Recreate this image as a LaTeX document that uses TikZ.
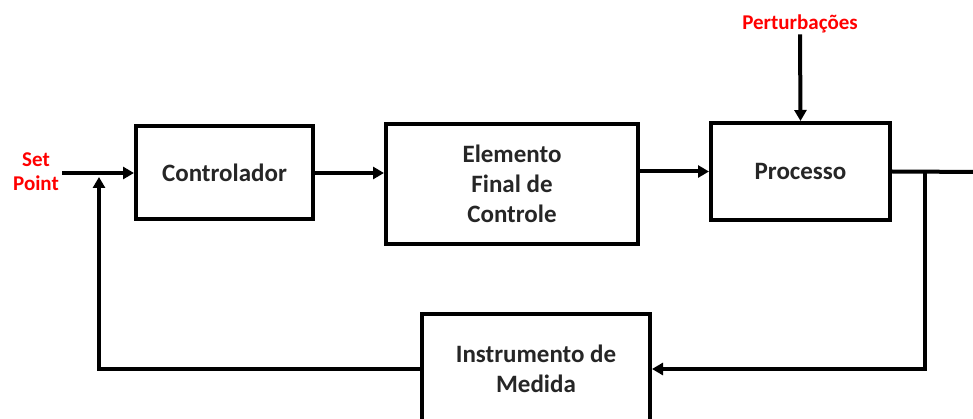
\documentclass[tikz,border=0pt]{standalone}
\usepackage{fontspec}
\setmainfont{Carlito}
\usetikzlibrary{arrows.meta}
\begin{document}
\begin{tikzpicture}[x=1pt,y=-1pt,
  blk/.style={draw=black,line width=4pt,fill=white,align=center,font=\fontsize{25}{30}\selectfont\bfseries,text=black!85,inner sep=0pt},
  lbl/.style={text=red,align=center,font=\fontsize{21}{24}\selectfont\bfseries,inner sep=1pt},
  wire/.style={line width=4pt,line join=miter},
  arr/.style={wire,-{Triangle[length=11pt,width=12pt]}}]
\useasboundingbox (0,0) rectangle (973,419);
\clip (0,0) rectangle (973,419);
\node[blk,minimum width=177pt,minimum height=93pt] (ctrl) at (224.5,172.5) {Controlador};
\node[blk,minimum width=252pt,minimum height=120pt] (efc) at (512,184) {Elemento\\Final de\\Controle};
\node[blk,minimum width=179pt,minimum height=97pt] (proc) at (800.5,171.5) {Processo};
\node[blk,minimum width=228pt,minimum height=110pt] (inst) at (536,369) {Instrumento de\\Medida};
\node[lbl] (sp) at (36,172) {Set\\Point};
\node[lbl] (pert) at (800,24) {Perturbações};
\coordinate (spend) at (62,173);
\coordinate (j1) at (99,177);
\coordinate (br) at (925,172);
\coordinate (out) at (986,172);
\draw[arr] (spend) -- (ctrl.west |- spend);
\draw[arr] (ctrl.east |- spend) -- (efc.west |- spend);
\draw[arr] (efc.east |- proc) -- (proc.west);
\draw[arr] (proc.east) -- (out);
\draw[arr] (br) |- (inst.east);
\draw[arr] (inst.west) -| (j1);
\draw[arr] (pert.south) -- (proc.north);
\end{tikzpicture}
\end{document}
